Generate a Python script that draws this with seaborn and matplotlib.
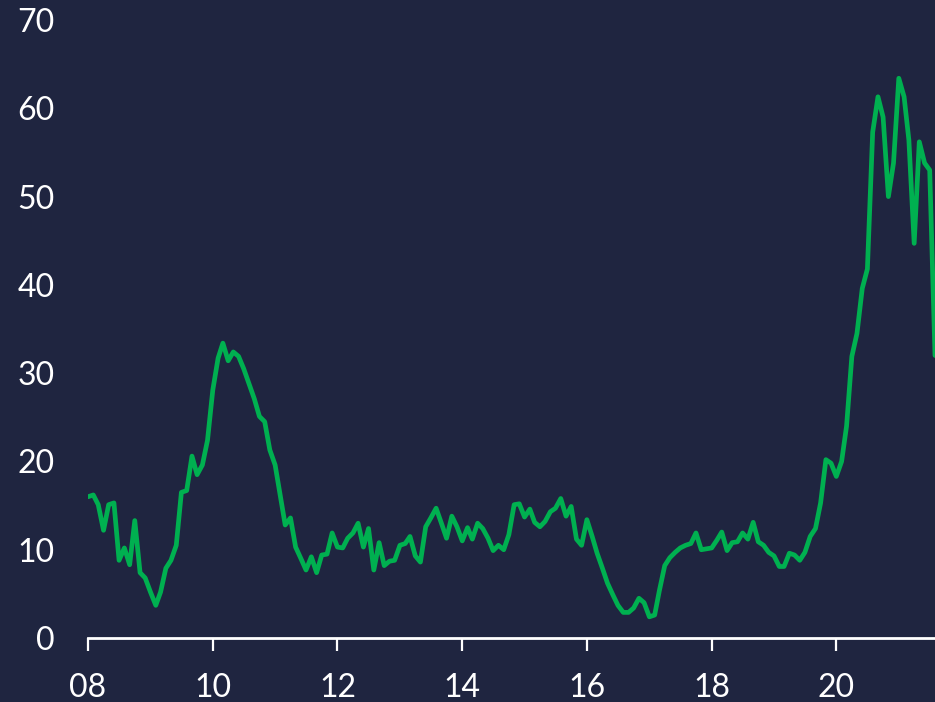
import matplotlib
matplotlib.use("Agg")
import matplotlib.pyplot as plt
import numpy as np
import pandas as pd
import seaborn as sns

# Monthly readings, Jan 2008 through Aug 2021
values_2008 = [16.0, 16.2, 15.1, 12.2, 15.1, 15.3, 8.8, 10.2, 8.3, 13.3, 7.4, 6.8]
values_2009 = [5.2, 3.7, 5.2, 7.9, 8.8, 10.5, 16.5, 16.7, 20.6, 18.5, 19.6, 22.4]
values_2010 = [28.1, 31.7, 33.4, 31.4, 32.4, 31.9, 30.5, 28.8, 27.1, 25.1, 24.5, 21.3]
values_2011 = [19.6, 16.0, 12.8, 13.6, 10.3, 9.0, 7.7, 9.2, 7.4, 9.4, 9.5, 11.9]
values_2012 = [10.3, 10.2, 11.3, 11.9, 13.0, 10.3, 12.4, 7.7, 10.8, 8.2, 8.7, 8.8]
values_2013 = [10.5, 10.7, 11.5, 9.3, 8.6, 12.6, 13.6, 14.7, 13.0, 11.3, 13.8, 12.6]
values_2014 = [11.0, 12.5, 11.2, 13.0, 12.4, 11.3, 9.9, 10.5, 10.0, 11.7, 15.1, 15.2]
values_2015 = [13.7, 14.6, 13.1, 12.6, 13.2, 14.3, 14.7, 15.8, 13.8, 14.9, 11.2, 10.5]
values_2016 = [13.4, 11.5, 9.6, 7.9, 6.2, 4.9, 3.7, 2.9, 2.9, 3.4, 4.5, 4.0]
values_2017 = [2.4, 2.6, 5.4, 8.2, 9.1, 9.7, 10.2, 10.5, 10.7, 11.9, 10.0, 10.1]
values_2018 = [10.2, 11.1, 12.0, 9.9, 10.8, 10.9, 11.9, 11.2, 13.1, 10.9, 10.5, 9.7]
values_2019 = [9.3, 8.1, 8.1, 9.6, 9.4, 8.8, 9.7, 11.5, 12.4, 15.3, 20.2, 19.8]
values_2020 = [18.3, 20.0, 24.0, 31.9, 34.5, 39.6, 41.8, 57.3, 61.3, 59.0, 50.0, 53.8]
values_2021 = [63.4, 61.3, 56.4, 44.7, 56.2, 53.8, 53.0, 32.0]

tick_years = [2008, 2010, 2012, 2014, 2016, 2018, 2020]
tick_labels = ["08", "10", "12", "14", "16", "18", "20"]
y_ticks = [0, 10, 20, 30, 40, 50, 60, 70]

values = (values_2008 + values_2009 + values_2010 + values_2011 + values_2012
          + values_2013 + values_2014 + values_2015 + values_2016 + values_2017
          + values_2018 + values_2019 + values_2020 + values_2021)
dates = pd.date_range("2008-01-01", periods=len(values), freq="MS")
df = pd.DataFrame({"date": dates, "value": values})

BG = "#1f2540"
GREEN = "#00b050"
WHITE = "#ffffff"

sns.set_theme(style="dark", rc={"axes.facecolor": BG, "figure.facecolor": BG})
plt.rcParams["font.family"] = ["Lato", "DejaVu Sans"]

fig = plt.figure(figsize=(9.35, 7.02), dpi=100)
ax = fig.add_axes([88 / 935, 1 - 638 / 702, 1 - 88 / 935, (638 - 20) / 702])
ax.set_facecolor(BG)

sns.lineplot(data=df, x="date", y="value", ax=ax, color=GREEN, linewidth=3.4)

ax.set_xlim(dates[0], dates[-1])
ax.set_ylim(0, 70)

ax.set_xticks([pd.Timestamp(f"{y}-01-01") for y in tick_years])
ax.set_xticklabels(tick_labels)
ax.set_yticks(y_ticks)
ax.set_yticklabels([str(v) for v in y_ticks])

ax.set_xlabel("")
ax.set_ylabel("")
ax.grid(False)

for side in ["top", "right", "left"]:
    ax.spines[side].set_visible(False)
ax.spines["bottom"].set_visible(True)
ax.spines["bottom"].set_color(WHITE)
ax.spines["bottom"].set_linewidth(2.0)

ax.tick_params(axis="x", which="major", direction="out", length=9, width=1.6,
               color=WHITE, labelcolor=WHITE, labelsize=23, pad=16, bottom=True)
ax.tick_params(axis="y", which="major", length=0, labelcolor=WHITE,
               labelsize=23, pad=24, left=False)

fig.savefig("out.png", dpi=100, facecolor=BG)
